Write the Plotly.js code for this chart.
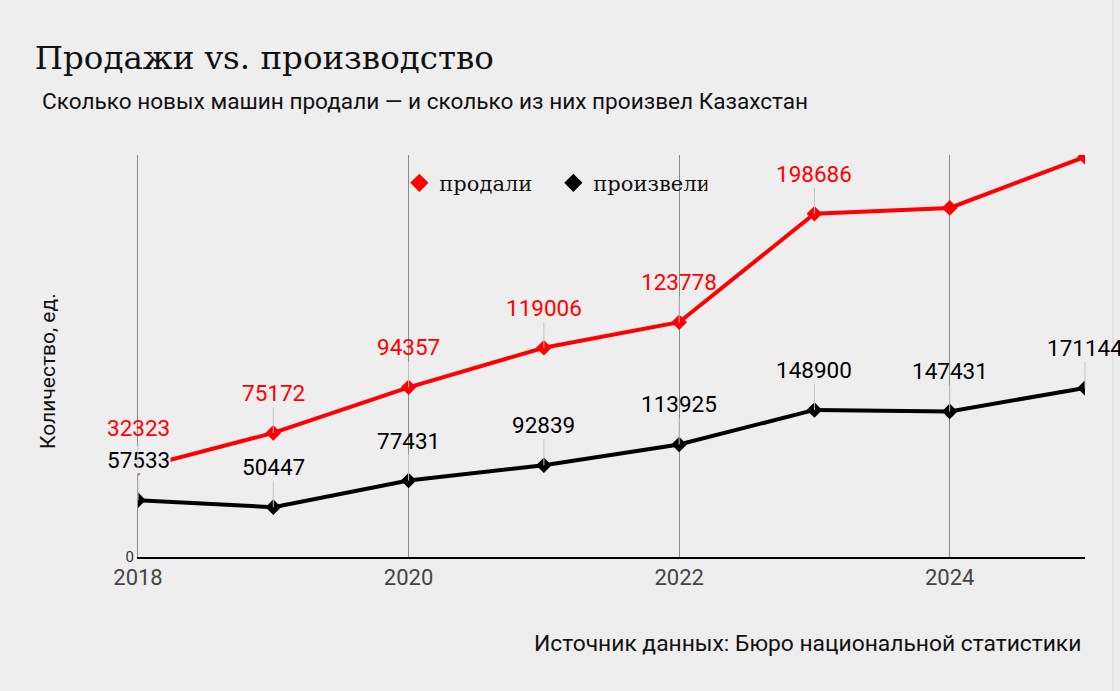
<!DOCTYPE html>
<html>
<head>
<meta charset="utf-8">
<script src="https://cdn.plot.ly/plotly-3.0.1.min.js"></script>
<style>
  html, body { margin: 0; padding: 0; background: #eeeeee; }
  #chart { width: 1120px; height: 691px; }
</style>
</head>
<body>
<div id="chart"></div>
<script>
const years = [2018, 2019, 2020, 2021, 2022, 2023, 2024, 2025];
// sold is drawn stacked on top of produced (as in the source chart)
const produced = [57533, 50447, 77431, 92839, 113925, 148900, 147431, 171144];
const sold = [32323, 75172, 94357, 119006, 123778, 198686, 206000, 234000];
const soldLabelShown = [true, true, true, true, true, true, false, false];
const xTicks = [2018, 2020, 2022, 2024];

const bg = "#eeeeee";
const red = "#ff0000";
const black = "#000000";

const seriesTrace = (name, values, color) => ({
  x: years,
  y: values,
  name: name,
  type: "scatter",
  mode: "lines+markers",
  stackgroup: "one",
  fill: "none",
  line: { color: color, width: 4 },
  marker: { symbol: "diamond", size: 12, color: color },
  showlegend: false,
  hoverinfo: "x+y",
});

// legend-only markers, so the legend shows diamonds without a line
const legendTrace = (name, color) => ({
  x: [null],
  y: [null],
  name: name,
  type: "scatter",
  mode: "markers",
  marker: { symbol: "diamond", size: 14, color: color },
});

const data = [
  seriesTrace("произвели", produced, black),
  seriesTrace("продали", sold, red),
  legendTrace("продали", red),
  legendTrace("произвели", black),
];

// value labels with short leader lines
const labelFont = { family: "Roboto", size: 22.5 };
const annotations = [];
years.forEach((yr, i) => {
  annotations.push({
    x: yr, y: produced[i], xref: "x", yref: "y",
    text: String(produced[i]),
    showarrow: true, arrowhead: 0, arrowwidth: 1, arrowcolor: "#c4c4c4",
    ax: 0, ay: -40,
    bgcolor: i === 0 ? bg : "rgba(0,0,0,0)",
    borderpad: 0,
    font: Object.assign({ color: black }, labelFont),
  });
  if (soldLabelShown[i]) {
    annotations.push({
      x: yr, y: produced[i] + sold[i], xref: "x", yref: "y",
      text: String(sold[i]),
      showarrow: true, arrowhead: 0, arrowwidth: 1, arrowcolor: "#c4c4c4",
      ax: 0, ay: -40,
      font: Object.assign({ color: red }, labelFont),
    });
  }
});

annotations.push(
  {
    xref: "paper", yref: "paper", x: -0.1035, y: 1.134,
    xanchor: "left", yanchor: "middle", showarrow: false,
    text: "Сколько новых машин продали — и сколько из них произвел Казахстан",
    font: { family: "Roboto", size: 22.6, color: "#111111" },
  },
  {
    xref: "paper", yref: "paper", x: -0.095, y: 0.463,
    xanchor: "center", yanchor: "middle", showarrow: false, textangle: -90,
    text: "Количество, ед.",
    font: { family: "Roboto", size: 21, color: "#111111" },
  },
  {
    xref: "paper", yref: "paper", x: 0.998, y: -0.214,
    xanchor: "right", yanchor: "middle", showarrow: false,
    text: "Источник данных: Бюро национальной статистики",
    font: { family: "Roboto", size: 22.8, color: "#111111" },
  }
);

const layout = {
  width: 1120,
  height: 691,
  paper_bgcolor: bg,
  plot_bgcolor: bg,
  margin: { l: 138, r: 35, t: 155, b: 134 },
  title: {
    text: "Продажи vs. производство",
    xref: "container", yref: "container",
    x: 0.031, y: 0.917, xanchor: "left", yanchor: "middle",
    font: { family: "DejaVu Serif", size: 32.5, color: "#111111" },
  },
  xaxis: {
    range: [2018, 2025],
    tickvals: xTicks,
    ticktext: xTicks.map(String),
    showgrid: true,
    gridcolor: "#8a8a8a",
    gridwidth: 1,
    zeroline: false,
    showline: true,
    linecolor: "#000000",
    linewidth: 2,
    ticks: "",
    tickfont: { family: "Roboto", size: 22, color: "#444444" },
  },
  yaxis: {
    range: [0, 407000],
    tickvals: [0],
    ticktext: ["0"],
    showgrid: false,
    zeroline: false,
    showline: true,
    linecolor: "#8a8a8a",
    linewidth: 1,
    ticks: "",
    tickfont: { family: "Roboto", size: 15, color: "#333333" },
  },
  legend: {
    orientation: "h",
    x: 0.276, y: 0.93,
    xanchor: "left", yanchor: "middle",
    bgcolor: "rgba(0,0,0,0)",
    font: { family: "DejaVu Serif", size: 21, color: "#111111" },
    itemwidth: 30,
    entrywidth: 109,
  },
  shapes: [
    {
      type: "line", xref: "paper", yref: "paper",
      x0: 1.0296, x1: 1.0296, y0: -0.34, y1: 1.39,
      line: { color: "#d6d6d6", width: 1 },
    },
  ],
  annotations: annotations,
  showlegend: true,
};

Plotly.newPlot("chart", data, layout, { displayModeBar: false, staticPlot: true });
</script>
</body>
</html>
